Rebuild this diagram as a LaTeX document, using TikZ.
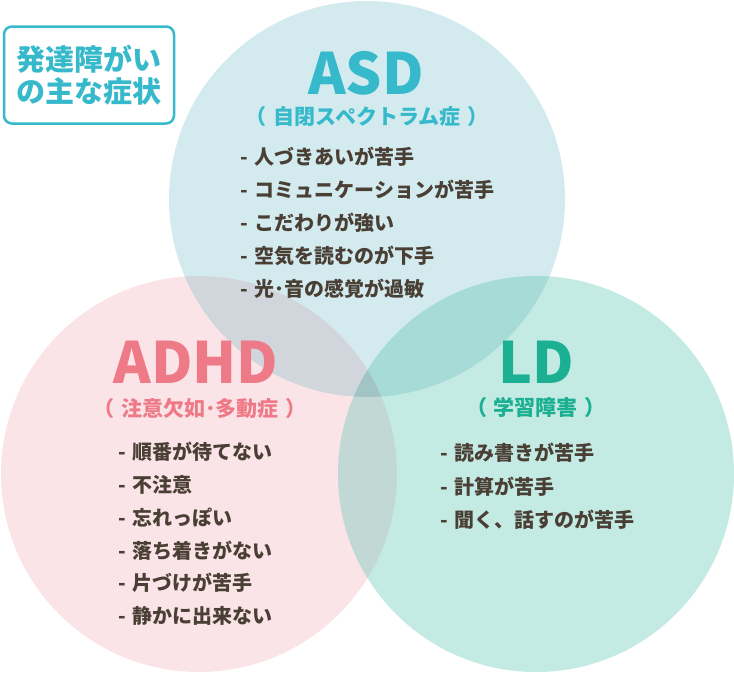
\documentclass[tikz,border=0pt]{standalone}
\usepackage{fontspec}
\setmainfont{Noto Sans CJK JP}
\definecolor{asdfill}{RGB}{211,235,239}
\definecolor{adhdfill}{RGB}{251,228,231}
\definecolor{ldfill}{RGB}{196,234,228}
\definecolor{asdadhd}{RGB}{208,214,219}
\definecolor{asdld}{RGB}{167,219,216}
\definecolor{adhdld}{RGB}{194,216,213}
\definecolor{allthree}{RGB}{163,196,196}
\definecolor{asdtxt}{RGB}{53,185,203}
\definecolor{adhdtxt}{RGB}{239,122,135}
\definecolor{ldtxt}{RGB}{27,176,145}
\definecolor{itemtxt}{RGB}{74,63,53}
\newcommand{\paren}[1]{（\hspace{7pt}#1\hspace{7pt}）}
\begin{document}
\begin{tikzpicture}[x=1pt, y=-1pt,
  head/.style={font=\fontsize{57}{57}\selectfont\bfseries, text=#1, inner sep=0pt},
  sub/.style={font=\fontsize{21}{21}\selectfont\bfseries, text=#1, inner sep=0pt},
  item/.style={font=\fontsize{20}{20}\selectfont\bfseries, text=itemtxt,
               anchor=west, inner sep=0pt}
]
  \useasboundingbox (0,0) rectangle (734,673);
  \def\R{198pt}
  \coordinate (casd)  at (367,199);
  \coordinate (cadhd) at (199,474);
  \coordinate (cld)   at (536,474);

  % circles
  \fill[asdfill]  (casd)  circle (\R);
  \fill[adhdfill] (cadhd) circle (\R);
  \fill[ldfill]   (cld)   circle (\R);

  % overlaps
  \begin{scope}
    \clip (casd) circle (\R);
    \fill[asdadhd] (cadhd) circle (\R);
    \fill[asdld]   (cld)   circle (\R);
  \end{scope}
  \begin{scope}
    \clip (cadhd) circle (\R);
    \fill[adhdld] (cld) circle (\R);
    \clip (cld) circle (\R);
    \fill[allthree] (casd) circle (\R);
  \end{scope}

  % title box
  \node[draw=asdtxt, line width=2.5pt, rounded corners=8pt, fill=white,
        minimum width=170, minimum height=97, text=asdtxt, align=center,
        font=\fontsize{29}{32}\selectfont\bfseries] (title) at (89,75)
    {発達障がい\\の主な症状};

  % ASD
  \node[head=asdtxt] (asd) at (366,73) {ASD};
  \node[sub=asdtxt] (asdsub) at (367,117) {\paren{自閉スペクトラム症}};
  \foreach \t [count=\i] in {人づきあいが苦手, コミュニケーションが苦手,
      こだわりが強い, 空気を読むのが下手, 光･音の感覚が過敏}
    \node[item] (asd\i) at (240,{157+33*(\i-1)}) {-\hspace{7pt}\t};

  % ADHD
  \node[head=adhdtxt] (adhd) at (196,362) {ADHD};
  \node[sub=adhdtxt] (adhdsub) at (200,408) {\paren{注意欠如･多動症}};
  \foreach \t [count=\i] in {順番が待てない, 不注意, 忘れっぽい,
      落ち着きがない, 片づけが苦手, 静かに出来ない}
    \node[item] (adhd\i) at (118,{452+32.8*(\i-1)}) {-\hspace{7pt}\t};

  % LD
  \node[head=ldtxt] (ld) at (536,362) {LD};
  \node[sub=ldtxt] (ldsub) at (536,408) {\paren{学習障害}};
  \foreach \t [count=\i] in {読み書きが苦手, 計算が苦手, 聞く、話すのが苦手}
    \node[item] (ld\i) at (440,{453+33.5*(\i-1)}) {-\hspace{7pt}\t};
\end{tikzpicture}
\end{document}
